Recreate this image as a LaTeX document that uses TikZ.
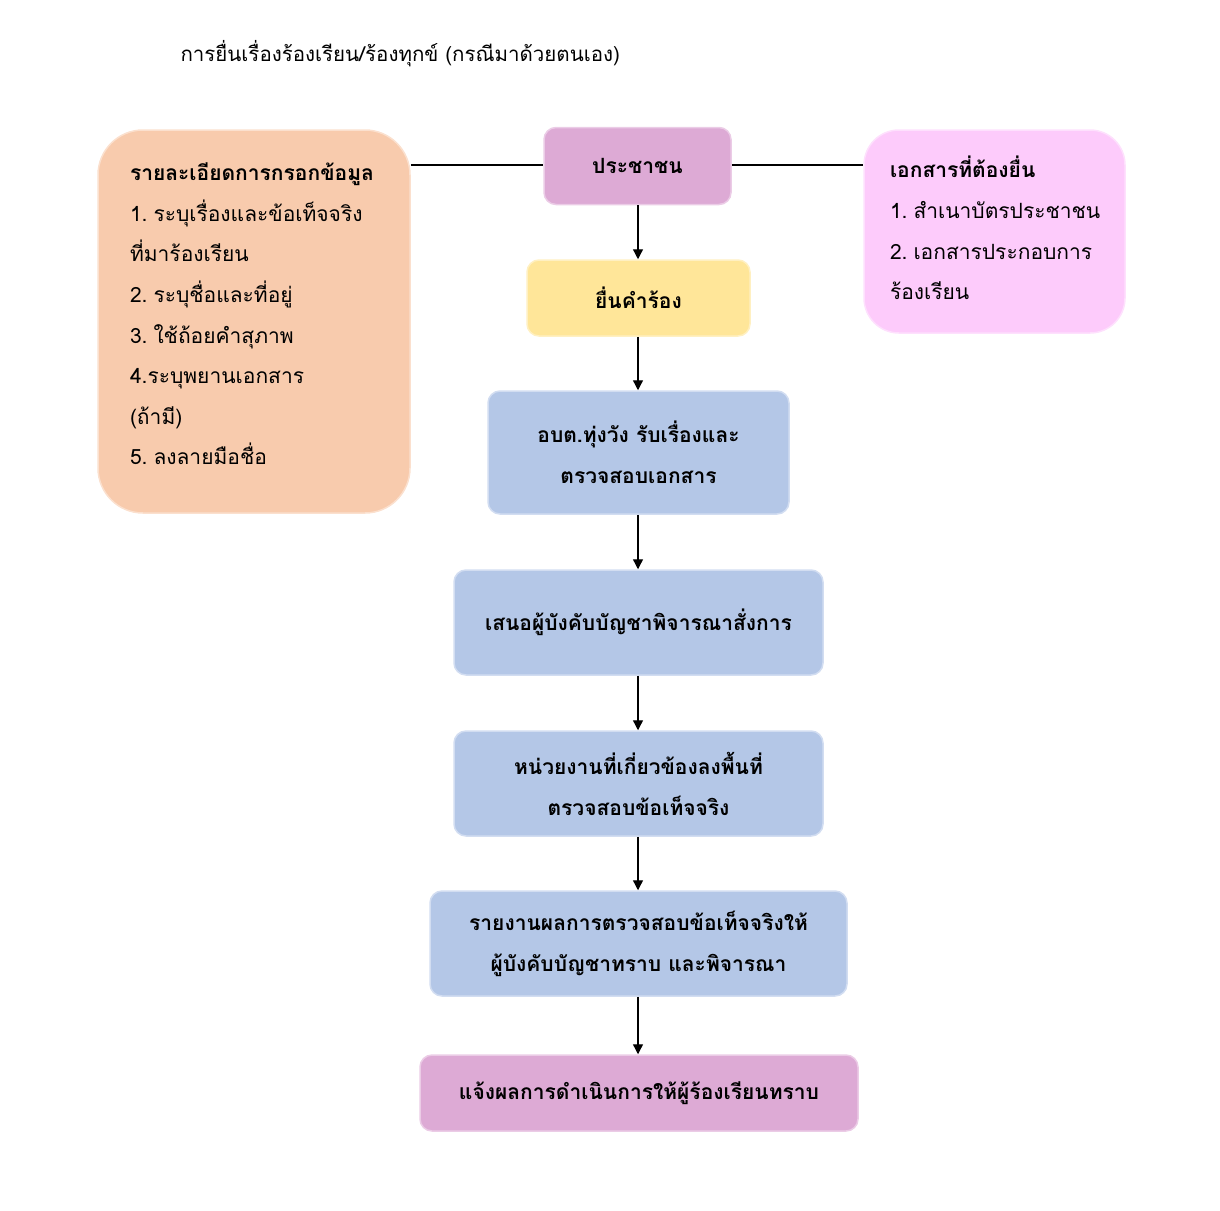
\documentclass[tikz,border=0pt]{standalone}
\usepackage{fontspec}
\setmainfont[Script=Thai]{Loma}
\usetikzlibrary{arrows.meta}
\definecolor{peach}{HTML}{F8CBAD}
\definecolor{pinkbox}{HTML}{FDCBFB}
\definecolor{mauve}{HTML}{DDAAD5}
\definecolor{yellowbox}{HTML}{FFE699}
\definecolor{bluebox}{HTML}{B4C7E7}
\newcommand{\nsp}{\hspace{6pt}}
\tikzset{
  box/.style={draw=#1!60!white, fill=#1, line width=1.5pt, rounded corners=12pt,
    font={\fontsize{21}{41}\selectfont\bfseries}, align=center, inner sep=0pt},
  sidebox/.style={draw=#1!60!white, fill=#1, line width=1.5pt, inner sep=0pt},
  sidetext/.style={align=left, inner sep=0pt, font={\fontsize{21}{40.6}\selectfont}},
  arr/.style={line width=1.3pt, -{Triangle[width=10pt,length=10pt]}},
  link/.style={line width=1.3pt}
}
\begin{document}
\begin{tikzpicture}[x=1pt,y=-1pt]
\useasboundingbox (0,0) rectangle (1220,1210);
\node[font={\fontsize{20.5}{25}\selectfont}, anchor=west] (title) at (177,54) {การยื่นเรื่องร้องเรียน/ร้องทุกข์ (กรณีมาด้วยตนเอง)};

\node[sidebox=peach, rounded corners=45pt, minimum width=312pt, minimum height=383pt] (left) at (254,321.5) {};
\node[sidetext, text width=260pt] (lefttext) at (260,314)
  {\textbf{รายละเอียดการกรอกข้อมูล}\\ 1.\nsp ระบุเรื่องและข้อเท็จจริง\\ ที่มาร้องเรียน\\ 2.\nsp ระบุชื่อและที่อยู่\\ 3.\nsp ใช้ถ้อยคำสุภาพ\\ 4.ระบุพยานเอกสาร\\ (ถ้ามี)\\ 5.\nsp ลงลายมือชื่อ};

\node[sidebox=pinkbox, rounded corners=35pt, minimum width=261pt, minimum height=203pt] (right) at (994.5,231.5) {};
\node[sidetext, text width=220pt] (righttext) at (1000,228)
  {\textbf{เอกสารที่ต้องยื่น}\\ 1.\nsp สำเนาบัตรประชาชน\\ 2.\nsp เอกสารประกอบการ\\ ร้องเรียน};

\node[box=mauve, minimum width=187pt, minimum height=77pt] (n1) at (637.5,166) {ประชาชน};
\node[box=yellowbox, minimum width=223pt, minimum height=76pt] (n2) at (638.5,298) {ยื่นคำร้อง};
\node[box=bluebox, minimum width=301pt, minimum height=123pt] (n3) at (638.5,452.5) {อบต.ทุ่งวัง รับเรื่องและ\\ ตรวจสอบเอกสาร};
\node[box=bluebox, minimum width=369pt, minimum height=105pt] (n4) at (638.5,622.5) {เสนอผู้บังคับบัญชาพิจารณาสั่งการ};
\node[box=bluebox, minimum width=369pt, minimum height=105pt] (n5) at (638.5,783.5) {หน่วยงานที่เกี่ยวข้องลงพื้นที่\\ ตรวจสอบข้อเท็จจริง};
\node[box=bluebox, minimum width=417pt, minimum height=105pt] (n6) at (638.5,943.5) {รายงานผลการตรวจสอบข้อเท็จจริงให้\\ ผู้บังคับบัญชาทราบ และพิจารณา};
\node[box=mauve, minimum width=438pt, minimum height=76pt] (n7) at (639,1093) {แจ้งผลการดำเนินการให้ผู้ร้องเรียนทราบ};

\coordinate (ax) at (638,0);
\draw[arr] (ax |- n1.south) -- (ax |- n2.north);
\draw[arr] (ax |- n2.south) -- (ax |- n3.north);
\draw[arr] (ax |- n3.south) -- (ax |- n4.north);
\draw[arr] (ax |- n4.south) -- (ax |- n5.north);
\draw[arr] (ax |- n5.south) -- (ax |- n6.north);
\draw[arr] (ax |- n6.south) -- (ax |- n7.north);

\coordinate (ly) at (0,165);
\draw[link] (left.east |- ly) -- (n1.west |- ly);
\draw[link] (n1.east |- ly) -- (right.west |- ly);
\end{tikzpicture}
\end{document}
